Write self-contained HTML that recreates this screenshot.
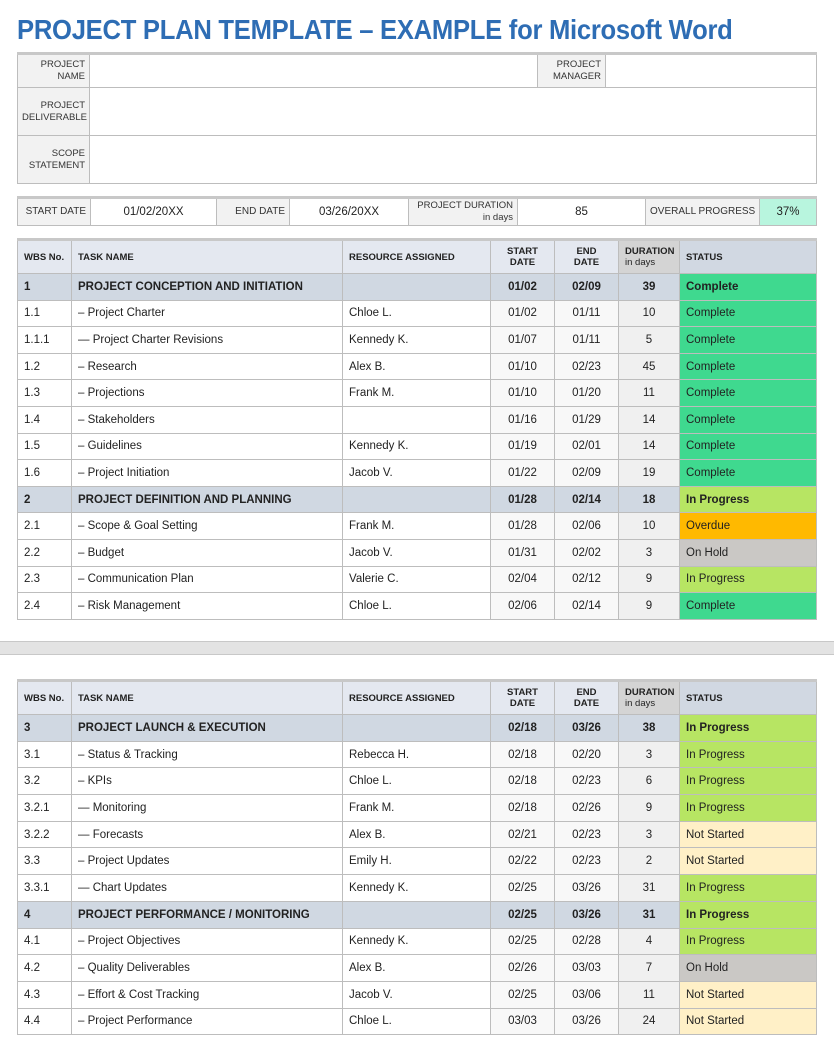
<!DOCTYPE html>
<html><head><meta charset="utf-8"><style>
*{margin:0;padding:0;box-sizing:border-box}
body{width:834px;height:1061px;background:#fff;font-family:"Liberation Sans",sans-serif;color:#222;position:relative;overflow:hidden}
.title{position:absolute;left:17px;top:14px;font-size:28px;font-weight:bold;color:#2e6db4;white-space:nowrap;transform-origin:0 0;transform:scaleX(0.915);letter-spacing:-0.3px}
table{position:absolute;left:17px;width:800px;border-collapse:collapse;table-layout:fixed}
td{border:1px solid #bdbdbd;font-size:11.5px;padding:0 6px;overflow:hidden;white-space:nowrap}
.info td.l{background:#f2f2f2;text-align:right;font-size:9.5px;line-height:12px;color:#333;padding:0 4px}
.t{border-top:3px solid #c8c8c8}
.c{text-align:center}
.hd td{background:#e4e8f0;font-weight:bold;font-size:9.5px;line-height:11px}
.hd td.du{background:#d4d4d4}
.hd td.st{background:#d1d8e2}
.sec td{background:#d0d8e2;font-weight:bold;font-size:11.5px}
.dt{background:#f8f8f8}
.du{background:#f0f0f0}
.cp{background:#3fd98f!important}
.ip{background:#b7e563!important}
.ov{background:#ffb900!important}
.oh{background:#cac8c5!important}
.ns{background:#fff0c7!important}
.band{position:absolute;left:0;top:641px;width:834px;height:14px;background:#e3e3e3;border-top:1px solid #c8c8c8;border-bottom:1px solid #c8c8c8}
</style></head><body>
<div class="title">PROJECT PLAN TEMPLATE – EXAMPLE for Microsoft Word</div>

<table class="info" style="top:52px">
<colgroup><col style="width:72px"><col style="width:448px"><col style="width:68px"><col></colgroup>
<tr style="height:34px" class="t"><td class="l">PROJECT<br>NAME</td><td></td><td class="l">PROJECT<br>MANAGER</td><td></td></tr>
<tr style="height:48px"><td class="l">PROJECT<br>DELIVERABLE</td><td colspan="3"></td></tr>
<tr style="height:48px"><td class="l">SCOPE<br>STATEMENT</td><td colspan="3"></td></tr>
</table>

<table class="info" style="top:196px">
<colgroup><col style="width:73px"><col style="width:126px"><col style="width:73px"><col style="width:119px"><col style="width:109px"><col style="width:128px"><col style="width:114px"><col></colgroup>
<tr style="height:28px" class="t"><td class="l" style="font-size:10px">START DATE</td><td class="c">01/02/20XX</td><td class="l" style="font-size:10px">END DATE</td><td class="c">03/26/20XX</td><td class="l">PROJECT DURATION<br>in days</td><td class="c">85</td><td class="l" style="font-size:10px">OVERALL PROGRESS</td><td class="c" style="background:#b8f5de">37%</td></tr>
</table>

<table style="top:238px">
<colgroup><col style="width:54px"><col style="width:271px"><col style="width:148px"><col style="width:64px"><col style="width:64px"><col style="width:61px"><col></colgroup>
<tr class="hd t" style="height:34px"><td>WBS No.</td><td>TASK NAME</td><td>RESOURCE ASSIGNED</td><td class="c">START<br>DATE</td><td class="c">END<br>DATE</td><td class="du">DURATION<br><span style="font-weight:normal">in days</span></td><td class="st">STATUS</td></tr>
<tr class="sec" style="height:26.6px"><td>1</td><td>PROJECT CONCEPTION AND INITIATION</td><td></td><td class="c">01/02</td><td class="c">02/09</td><td class="c">39</td><td class="cp">Complete</td></tr>
<tr style="height:26.6px"><td>1.1</td><td>– Project Charter</td><td>Chloe L.</td><td class="c dt">01/02</td><td class="c dt">01/11</td><td class="c du">10</td><td class="cp">Complete</td></tr>
<tr style="height:26.6px"><td>1.1.1</td><td>— Project Charter Revisions</td><td>Kennedy K.</td><td class="c dt">01/07</td><td class="c dt">01/11</td><td class="c du">5</td><td class="cp">Complete</td></tr>
<tr style="height:26.6px"><td>1.2</td><td>– Research</td><td>Alex B.</td><td class="c dt">01/10</td><td class="c dt">02/23</td><td class="c du">45</td><td class="cp">Complete</td></tr>
<tr style="height:26.6px"><td>1.3</td><td>– Projections</td><td>Frank M.</td><td class="c dt">01/10</td><td class="c dt">01/20</td><td class="c du">11</td><td class="cp">Complete</td></tr>
<tr style="height:26.6px"><td>1.4</td><td>– Stakeholders</td><td></td><td class="c dt">01/16</td><td class="c dt">01/29</td><td class="c du">14</td><td class="cp">Complete</td></tr>
<tr style="height:26.6px"><td>1.5</td><td>– Guidelines</td><td>Kennedy K.</td><td class="c dt">01/19</td><td class="c dt">02/01</td><td class="c du">14</td><td class="cp">Complete</td></tr>
<tr style="height:26.6px"><td>1.6</td><td>– Project Initiation</td><td>Jacob V.</td><td class="c dt">01/22</td><td class="c dt">02/09</td><td class="c du">19</td><td class="cp">Complete</td></tr>
<tr class="sec" style="height:26.6px"><td>2</td><td>PROJECT DEFINITION AND PLANNING</td><td></td><td class="c">01/28</td><td class="c">02/14</td><td class="c">18</td><td class="ip">In Progress</td></tr>
<tr style="height:26.6px"><td>2.1</td><td>– Scope &amp; Goal Setting</td><td>Frank M.</td><td class="c dt">01/28</td><td class="c dt">02/06</td><td class="c du">10</td><td class="ov">Overdue</td></tr>
<tr style="height:26.6px"><td>2.2</td><td>– Budget</td><td>Jacob V.</td><td class="c dt">01/31</td><td class="c dt">02/02</td><td class="c du">3</td><td class="oh">On Hold</td></tr>
<tr style="height:26.6px"><td>2.3</td><td>– Communication Plan</td><td>Valerie C.</td><td class="c dt">02/04</td><td class="c dt">02/12</td><td class="c du">9</td><td class="ip">In Progress</td></tr>
<tr style="height:26.6px"><td>2.4</td><td>– Risk Management</td><td>Chloe L.</td><td class="c dt">02/06</td><td class="c dt">02/14</td><td class="c du">9</td><td class="cp">Complete</td></tr>
</table>

<div class="band"></div>

<table style="top:679px">
<colgroup><col style="width:54px"><col style="width:271px"><col style="width:148px"><col style="width:64px"><col style="width:64px"><col style="width:61px"><col></colgroup>
<tr class="hd t" style="height:34px"><td>WBS No.</td><td>TASK NAME</td><td>RESOURCE ASSIGNED</td><td class="c">START<br>DATE</td><td class="c">END<br>DATE</td><td class="du">DURATION<br><span style="font-weight:normal">in days</span></td><td class="st">STATUS</td></tr>
<tr class="sec" style="height:26.7px"><td>3</td><td>PROJECT LAUNCH &amp; EXECUTION</td><td></td><td class="c">02/18</td><td class="c">03/26</td><td class="c">38</td><td class="ip">In Progress</td></tr>
<tr style="height:26.7px"><td>3.1</td><td>– Status &amp; Tracking</td><td>Rebecca H.</td><td class="c dt">02/18</td><td class="c dt">02/20</td><td class="c du">3</td><td class="ip">In Progress</td></tr>
<tr style="height:26.7px"><td>3.2</td><td>– KPIs</td><td>Chloe L.</td><td class="c dt">02/18</td><td class="c dt">02/23</td><td class="c du">6</td><td class="ip">In Progress</td></tr>
<tr style="height:26.7px"><td>3.2.1</td><td>— Monitoring</td><td>Frank M.</td><td class="c dt">02/18</td><td class="c dt">02/26</td><td class="c du">9</td><td class="ip">In Progress</td></tr>
<tr style="height:26.7px"><td>3.2.2</td><td>— Forecasts</td><td>Alex B.</td><td class="c dt">02/21</td><td class="c dt">02/23</td><td class="c du">3</td><td class="ns">Not Started</td></tr>
<tr style="height:26.7px"><td>3.3</td><td>– Project Updates</td><td>Emily H.</td><td class="c dt">02/22</td><td class="c dt">02/23</td><td class="c du">2</td><td class="ns">Not Started</td></tr>
<tr style="height:26.7px"><td>3.3.1</td><td>— Chart Updates</td><td>Kennedy K.</td><td class="c dt">02/25</td><td class="c dt">03/26</td><td class="c du">31</td><td class="ip">In Progress</td></tr>
<tr class="sec" style="height:26.7px"><td>4</td><td>PROJECT PERFORMANCE / MONITORING</td><td></td><td class="c">02/25</td><td class="c">03/26</td><td class="c">31</td><td class="ip">In Progress</td></tr>
<tr style="height:26.7px"><td>4.1</td><td>– Project Objectives</td><td>Kennedy K.</td><td class="c dt">02/25</td><td class="c dt">02/28</td><td class="c du">4</td><td class="ip">In Progress</td></tr>
<tr style="height:26.7px"><td>4.2</td><td>– Quality Deliverables</td><td>Alex B.</td><td class="c dt">02/26</td><td class="c dt">03/03</td><td class="c du">7</td><td class="oh">On Hold</td></tr>
<tr style="height:26.7px"><td>4.3</td><td>– Effort &amp; Cost Tracking</td><td>Jacob V.</td><td class="c dt">02/25</td><td class="c dt">03/06</td><td class="c du">11</td><td class="ns">Not Started</td></tr>
<tr style="height:26.7px"><td>4.4</td><td>– Project Performance</td><td>Chloe L.</td><td class="c dt">03/03</td><td class="c dt">03/26</td><td class="c du">24</td><td class="ns">Not Started</td></tr>
</table>
</body></html>
